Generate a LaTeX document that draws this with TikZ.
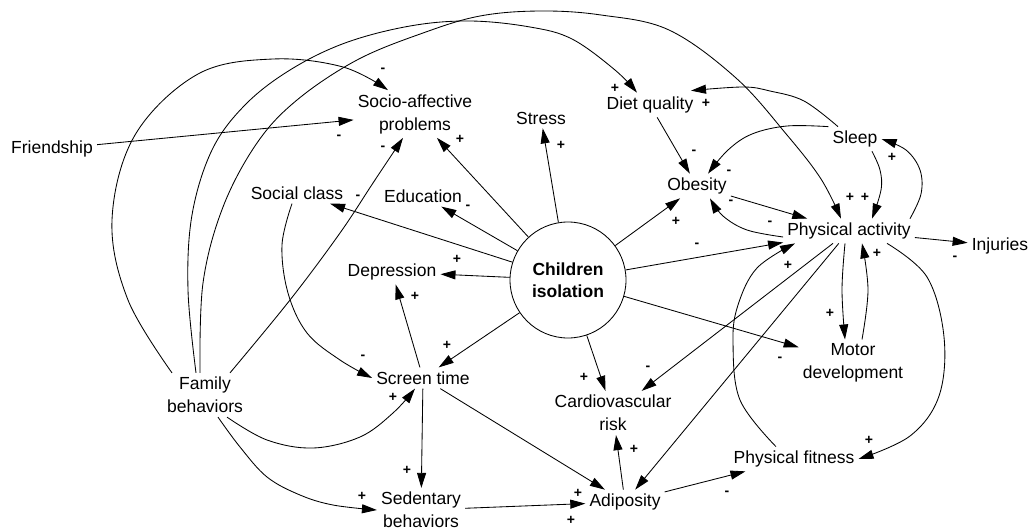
\documentclass[tikz,border=0pt]{standalone}
\usepackage{fontspec}
\setmainfont{Liberation Sans}
\usetikzlibrary{arrows.meta}
\begin{document}
\begin{tikzpicture}[x=1pt,y=-1pt,
  lbl/.style={inner sep=4pt, align=center, font=\fontsize{17.5}{23}\selectfont},
  circ/.style={circle, draw, line width=0.85pt, minimum size=116pt, inner sep=0pt,
    align=center, font=\bfseries\fontsize{17.5}{22}\selectfont},
  sgn/.style={inner sep=0pt, font=\bfseries\fontsize{14}{14}\selectfont},
  arr/.style={draw, line width=0.85pt, -{Triangle[length=15pt,width=9pt]}},
  curvy/.style={smooth, tension=0.6}
]
\useasboundingbox (0,0) rectangle (1030,530);

% variables
\node[lbl] (fr)    at (52,149)   {Friendship};
\node[lbl] (soc)   at (415,114)  {Socio-affective\\problems};
\node[lbl] (str)   at (541,118)  {Stress};
\node[lbl] (diet)  at (650,105)  {Diet quality};
\node[lbl] (sleep) at (855,139)  {Sleep};
\node[lbl] (sc)    at (297,193)  {Social class};
\node[lbl] (edu)   at (423,196)  {Education};
\node[lbl] (ob)    at (697,186)  {Obesity};
\node[lbl] (pa)    at (849,231)  {Physical activity};
\node[lbl] (inj)   at (1000,246) {Injuries};
\node[lbl] (dep)   at (392,272)  {Depression};
\node[circ] (cis)  at (568,280)  {Children\\isolation};
\node[lbl] (st)    at (423,378)  {Screen time};
\node[lbl] (fam)   at (205,395)  {Family\\behaviors};
\node[lbl] (md)    at (853,363)  {Motor\\development};
\node[lbl] (cv)    at (613,413)  {Cardiovascular\\risk};
\node[lbl] (pf)    at (794,459)  {Physical fitness};
\node[lbl] (sed)   at (421,510)  {Sedentary\\behaviors};
\node[lbl] (adi)   at (625,502)  {Adiposity};

% straight links
\draw[arr] (fr) -- (soc);
\draw[arr] (cis) -- (soc);
\draw[arr] (cis) -- (sc);
\draw[arr] (cis) -- (edu);
\draw[arr] (cis) -- (str);
\draw[arr] (cis) -- (dep);
\draw[arr] (cis) -- (ob);
\draw[arr] (cis) -- (pa);
\draw[arr] (cis) -- (md);
\draw[arr] (cis) -- (cv);
\draw[arr] (cis) -- (st);
\draw[arr] (diet) -- (ob);
\draw[arr] (ob) -- (pa);
\draw[arr] (pa) -- (inj);
\draw[arr] (pa) -- (cv);
\draw[arr] (pa) -- (adi);
\draw[arr] (st) -- (dep);
\draw[arr] (st) -- (sed);
\draw[arr] (st) -- (adi);
\draw[arr] (sed) -- (adi);
\draw[arr] (adi) -- (cv);
\draw[arr] (adi) -- (pf);

% curved links
\draw[arr] plot[curvy] coordinates {([xshift=-33pt]fam.north) (128,300) (112,220) (135,135) (198,74) (273,59) (343,67) ([xshift=-27pt]soc.north)};
\draw[arr] plot[curvy] coordinates {([xshift=-9pt]fam.north) (188,290) (192,215) (212,150) (245,105) (290,70) (345,43) (410,26) (470,21) (530,27) (572,39) (615,70) ([xshift=-13pt]diet.north)};
\draw[arr] plot[curvy] coordinates {([xshift=-5pt]fam.north) (203,283) (223,207) (257,143) (297,100) (357,60) (423,33) (480,16) (540,11) (601,15) (669,30) (736,78) (787,135) (821,179) ([xshift=-8pt]pa.north)};
\draw[arr] plot[curvy] coordinates {([xshift=25pt]fam.north) (290,300) (340,233) (373,183) ([xshift=-12pt]soc.south)};
\draw[arr] plot[curvy] coordinates {([xshift=-5pt]sc.south) (282,245) (288,293) (307,333) (340,360) (st.west)};
\draw[arr] plot[curvy] coordinates {([xshift=22pt]fam.south) (267,440) (313,448) (360,437) (393,413) ([xshift=-8pt]st.south)};
\draw[arr] plot[curvy] coordinates {([xshift=13pt]fam.south) (240,447) (267,477) (300,495) (333,505) (sed.west)};
\draw[arr] plot[curvy] coordinates {([yshift=-6pt]pa.west) (747,230) (723,216) ([xshift=13pt]ob.south)};
\draw[arr] plot[curvy] coordinates {(sleep.north west) (787,126) (752,134) (728,150) ([xshift=11pt]ob.north)};
\draw[arr] plot[curvy] coordinates {([xshift=-17pt]sleep.north) (804,101) (770,91) (743,87) ([xshift=41pt,yshift=2pt]diet.north)};
\draw[arr] plot[curvy] coordinates {([xshift=17pt]sleep.south) (880,170) (881,190) ([xshift=23pt]pa.north)};
\draw[arr] plot[curvy] coordinates {([xshift=61pt]pa.north) (921,194) (920,170) (906,150) (sleep.east)};
\draw[arr] plot[curvy] coordinates {([xshift=-4pt]pa.south) (842,290) ([xshift=-8pt]md.north)};
\draw[arr] plot[curvy] coordinates {([xshift=9pt]md.north) (868,290) ([xshift=13pt]pa.south)};
\draw[arr] plot[curvy] coordinates {([xshift=38pt]pa.south) (927,277) (944,337) (939,396) (910,436) (pf.east)};
\draw[arr] plot[curvy] coordinates {([xshift=-18pt]pf.north) (740,400) (733,342) (738,305) (757,268) ([xshift=-54pt]pa.south)};

% polarity signs
\node[sgn] (s1)  at (383,70)  {-};
\node[sgn] (s2)  at (339,137) {-};
\node[sgn] (s3)  at (383,148) {-};
\node[sgn] (s4)  at (460,139) {+};
\node[sgn] (s5)  at (358,197) {-};
\node[sgn] (s6)  at (468,207) {-};
\node[sgn] (s7)  at (561,145) {+};
\node[sgn] (s8)  at (615,88)  {+};
\node[sgn] (s9)  at (706,103) {+};
\node[sgn] (s10) at (694,152) {-};
\node[sgn] (s11) at (729,172) {-};
\node[sgn] (s12) at (676,221) {+};
\node[sgn] (s13) at (770,223) {-};
\node[sgn] (s14) at (731,202) {-};
\node[sgn] (s15) at (697,245) {-};
\node[sgn] (s16) at (788,265) {+};
\node[sgn] (s17) at (850,197) {+};
\node[sgn] (s18) at (865,197) {+};
\node[sgn] (s19) at (892,157) {+};
\node[sgn] (s20) at (877,253) {+};
\node[sgn] (s21) at (955,258) {-};
\node[sgn] (s22) at (457,259) {+};
\node[sgn] (s23) at (415,296) {+};
\node[sgn] (s24) at (447,345) {+};
\node[sgn] (s25) at (363,357) {-};
\node[sgn] (s26) at (393,397) {+};
\node[sgn] (s27) at (407,470) {+};
\node[sgn] (s28) at (362,496) {+};
\node[sgn] (s29) at (578,493) {+};
\node[sgn] (s30) at (571,520) {+};
\node[sgn] (s31) at (584,377) {+};
\node[sgn] (s32) at (648,368) {-};
\node[sgn] (s33) at (634,449) {+};
\node[sgn] (s34) at (727,493) {-};
\node[sgn] (s35) at (780,359) {-};
\node[sgn] (s36) at (830,313) {+};
\node[sgn] (s37) at (869,440) {+};
\end{tikzpicture}
\end{document}
